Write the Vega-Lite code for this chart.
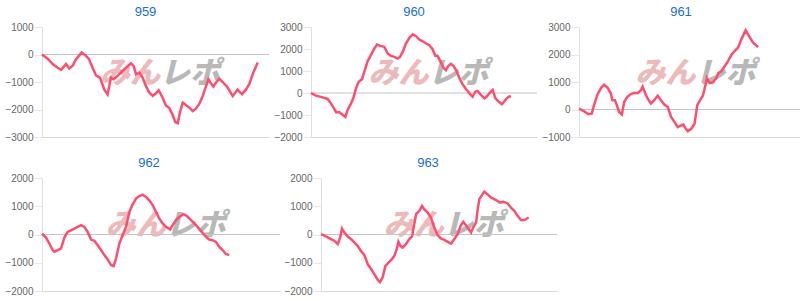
{
  "$schema": "https://vega.github.io/schema/vega-lite/v6.json",
  "autosize": {"type": "pad"},
  "padding": {"left": 4, "top": 6, "right": 0, "bottom": 0},
  "background": "white",
  "config": {
    "view": {"stroke": null},
    "font": "Liberation Sans",
    "title": {"fontSize": 13, "color": "#1a6dd1", "font": "Liberation Sans", "fontWeight": "normal", "anchor": "middle", "offset": 3},
    "axisY": {"labelColor": "#666666", "labelFontSize": 10, "labelFont": "Liberation Sans", "labelOverlap": false, "labelBound": false, "domainColor": "#e0e0e0", "tickColor": "#e6e6e6", "tickSize": 8, "labelPadding": 1, "gridColor": "#e6e6e6", "title": null, "format": "d"},
    "axisX": {"labels": false, "ticks": false, "grid": false, "domainColor": "#d8d8d8", "title": null}
  },
  "datasets": {
    "d": [
      {"g":959,"x":0,"v":0},{"g":959,"x":2.5,"v":-150},{"g":959,"x":4.7,"v":-350},{"g":959,"x":6.9,"v":-480},{"g":959,"x":8.4,"v":-560},{"g":959,"x":10.6,"v":-350},{"g":959,"x":12.0,"v":-510},{"g":959,"x":13.5,"v":-410},{"g":959,"x":15.0,"v":-170},{"g":959,"x":17.5,"v":70},{"g":959,"x":19.4,"v":-50},{"g":959,"x":20.6,"v":-150},{"g":959,"x":22.3,"v":-480},{"g":959,"x":23.8,"v":-760},{"g":959,"x":25.6,"v":-850},{"g":959,"x":27.5,"v":-1290},{"g":959,"x":28.9,"v":-1450},{"g":959,"x":30.4,"v":-840},{"g":959,"x":31.6,"v":-900},{"g":959,"x":33.3,"v":-780},{"g":959,"x":35.5,"v":-600},{"g":959,"x":37.0,"v":-480},{"g":959,"x":39.2,"v":-320},{"g":959,"x":40.4,"v":-420},{"g":959,"x":41.4,"v":-720},{"g":959,"x":42.9,"v":-660},{"g":959,"x":44.3,"v":-840},{"g":959,"x":45.8,"v":-1150},{"g":959,"x":47.3,"v":-1390},{"g":959,"x":48.8,"v":-1500},{"g":959,"x":50.2,"v":-1410},{"g":959,"x":51.4,"v":-1300},{"g":959,"x":53.2,"v":-1580},{"g":959,"x":54.6,"v":-1850},{"g":959,"x":56.1,"v":-1950},{"g":959,"x":57.6,"v":-2200},{"g":959,"x":58.7,"v":-2460},{"g":959,"x":59.8,"v":-2500},{"g":959,"x":60.8,"v":-2100},{"g":959,"x":62.0,"v":-1750},{"g":959,"x":63.4,"v":-1840},{"g":959,"x":64.9,"v":-1930},{"g":959,"x":66.4,"v":-2060},{"g":959,"x":67.8,"v":-1970},{"g":959,"x":69.3,"v":-1800},{"g":959,"x":70.8,"v":-1510},{"g":959,"x":72.2,"v":-1170},{"g":959,"x":73.3,"v":-900},{"g":959,"x":74.4,"v":-1050},{"g":959,"x":75.5,"v":-1170},{"g":959,"x":76.7,"v":-1020},{"g":959,"x":78.1,"v":-880},{"g":959,"x":79.6,"v":-1000},{"g":959,"x":81.8,"v":-1200},{"g":959,"x":84.0,"v":-1510},{"g":959,"x":86.2,"v":-1270},{"g":959,"x":87.2,"v":-1370},{"g":959,"x":88.1,"v":-1440},{"g":959,"x":89.9,"v":-1270},{"g":959,"x":91.3,"v":-1080},{"g":959,"x":92.8,"v":-720},{"g":959,"x":95.0,"v":-290},
      {"g":960,"x":0,"v":0},{"g":960,"x":2.2,"v":-120},{"g":960,"x":5.2,"v":-200},{"g":960,"x":7.4,"v":-270},{"g":960,"x":8.8,"v":-470},{"g":960,"x":10.3,"v":-720},{"g":960,"x":11.1,"v":-870},{"g":960,"x":12.5,"v":-870},{"g":960,"x":13.7,"v":-965},{"g":960,"x":15.2,"v":-1090},{"g":960,"x":16.2,"v":-770},{"g":960,"x":17.7,"v":-470},{"g":960,"x":18.7,"v":-240},{"g":960,"x":19.9,"v":210},{"g":960,"x":21.1,"v":510},{"g":960,"x":22.6,"v":630},{"g":960,"x":23.6,"v":970},{"g":960,"x":25.1,"v":1450},{"g":960,"x":26.5,"v":1720},{"g":960,"x":28.0,"v":2020},{"g":960,"x":29.2,"v":2200},{"g":960,"x":30.7,"v":2140},{"g":960,"x":32.4,"v":2100},{"g":960,"x":33.9,"v":1800},{"g":960,"x":35.4,"v":1690},{"g":960,"x":36.9,"v":1640},{"g":960,"x":38.3,"v":1570},{"g":960,"x":39.4,"v":1640},{"g":960,"x":40.6,"v":1870},{"g":960,"x":42.0,"v":2250},{"g":960,"x":43.5,"v":2500},{"g":960,"x":45.0,"v":2670},{"g":960,"x":46.5,"v":2580},{"g":960,"x":47.9,"v":2430},{"g":960,"x":49.4,"v":2350},{"g":960,"x":50.9,"v":2250},{"g":960,"x":52.4,"v":2170},{"g":960,"x":53.8,"v":1990},{"g":960,"x":55.0,"v":1690},{"g":960,"x":56.0,"v":1690},{"g":960,"x":57.5,"v":1390},{"g":960,"x":58.6,"v":1150},{"g":960,"x":59.7,"v":1040},{"g":960,"x":60.8,"v":1240},{"g":960,"x":61.9,"v":1330},{"g":960,"x":63.0,"v":1240},{"g":960,"x":64.2,"v":1040},{"g":960,"x":65.6,"v":690},{"g":960,"x":67.1,"v":390},{"g":960,"x":68.6,"v":180},{"g":960,"x":70.1,"v":-15},{"g":960,"x":71.5,"v":-170},{"g":960,"x":72.7,"v":60},{"g":960,"x":73.7,"v":90},{"g":960,"x":75.2,"v":-90},{"g":960,"x":76.7,"v":-240},{"g":960,"x":77.7,"v":-170},{"g":960,"x":78.9,"v":-15},{"g":960,"x":80.4,"v":140},{"g":960,"x":81.6,"v":-240},{"g":960,"x":83.0,"v":-390},{"g":960,"x":84.5,"v":-510},{"g":960,"x":85.5,"v":-390},{"g":960,"x":86.6,"v":-240},{"g":960,"x":87.5,"v":-170},{"g":960,"x":88.5,"v":-150},
      {"g":961,"x":0,"v":30},{"g":961,"x":2.2,"v":-60},{"g":961,"x":4.2,"v":-170},{"g":961,"x":5.7,"v":-150},{"g":961,"x":6.7,"v":160},{"g":961,"x":8.2,"v":530},{"g":961,"x":9.7,"v":770},{"g":961,"x":11.2,"v":900},{"g":961,"x":12.7,"v":800},{"g":961,"x":14.2,"v":590},{"g":961,"x":14.9,"v":340},{"g":961,"x":16.0,"v":340},{"g":961,"x":16.9,"v":160},{"g":961,"x":17.9,"v":-90},{"g":961,"x":19.1,"v":-180},{"g":961,"x":20.2,"v":280},{"g":961,"x":21.7,"v":470},{"g":961,"x":23.2,"v":560},{"g":961,"x":24.7,"v":610},{"g":961,"x":26.2,"v":590},{"g":961,"x":27.7,"v":710},{"g":961,"x":28.4,"v":830},{"g":961,"x":29.9,"v":530},{"g":961,"x":30.6,"v":400},{"g":961,"x":32.1,"v":220},{"g":961,"x":33.6,"v":340},{"g":961,"x":35.1,"v":500},{"g":961,"x":36.6,"v":340},{"g":961,"x":38.1,"v":180},{"g":961,"x":39.6,"v":100},{"g":961,"x":41.1,"v":-270},{"g":961,"x":42.6,"v":-450},{"g":961,"x":44.1,"v":-640},{"g":961,"x":45.6,"v":-580},{"g":961,"x":46.6,"v":-550},{"g":961,"x":47.5,"v":-670},{"g":961,"x":48.6,"v":-790},{"g":961,"x":50.1,"v":-700},{"g":961,"x":51.6,"v":-520},{"g":961,"x":52.8,"v":160},{"g":961,"x":54.1,"v":340},{"g":961,"x":55.3,"v":500},{"g":961,"x":56.5,"v":900},{"g":961,"x":57.1,"v":1140},{"g":961,"x":58.3,"v":960},{"g":961,"x":59.8,"v":990},{"g":961,"x":61.3,"v":1140},{"g":961,"x":62.3,"v":1330},{"g":961,"x":63.5,"v":1390},{"g":961,"x":65.0,"v":1570},{"g":961,"x":66.5,"v":1750},{"g":961,"x":68.0,"v":1980},{"g":961,"x":69.5,"v":2120},{"g":961,"x":71.0,"v":2250},{"g":961,"x":72.5,"v":2550},{"g":961,"x":74.4,"v":2880},{"g":961,"x":75.9,"v":2670},{"g":961,"x":77.7,"v":2430},{"g":961,"x":80.0,"v":2270},
      {"g":962,"x":0,"v":35},{"g":962,"x":1.7,"v":-110},{"g":962,"x":3.1,"v":-320},{"g":962,"x":4.5,"v":-550},{"g":962,"x":5.2,"v":-610},{"g":962,"x":6.6,"v":-550},{"g":962,"x":8.0,"v":-490},{"g":962,"x":9.4,"v":-110},{"g":962,"x":10.8,"v":90},{"g":962,"x":12.2,"v":150},{"g":962,"x":13.6,"v":210},{"g":962,"x":15.0,"v":270},{"g":962,"x":16.4,"v":330},{"g":962,"x":17.8,"v":270},{"g":962,"x":19.2,"v":90},{"g":962,"x":20.6,"v":-180},{"g":962,"x":22.0,"v":-220},{"g":962,"x":23.4,"v":-380},{"g":962,"x":24.8,"v":-550},{"g":962,"x":26.2,"v":-730},{"g":962,"x":27.6,"v":-880},{"g":962,"x":29.0,"v":-1080},{"g":962,"x":30.1,"v":-1120},{"g":962,"x":31.1,"v":-850},{"g":962,"x":32.5,"v":-320},{"g":962,"x":33.9,"v":-20},{"g":962,"x":35.3,"v":270},{"g":962,"x":36.7,"v":800},{"g":962,"x":38.1,"v":1070},{"g":962,"x":39.5,"v":1270},{"g":962,"x":40.9,"v":1360},{"g":962,"x":42.3,"v":1410},{"g":962,"x":43.7,"v":1330},{"g":962,"x":45.1,"v":1210},{"g":962,"x":46.5,"v":1040},{"g":962,"x":47.9,"v":800},{"g":962,"x":49.3,"v":560},{"g":962,"x":50.7,"v":390},{"g":962,"x":52.1,"v":270},{"g":962,"x":53.8,"v":180},{"g":962,"x":54.9,"v":330},{"g":962,"x":56.3,"v":510},{"g":962,"x":57.7,"v":620},{"g":962,"x":59.4,"v":720},{"g":962,"x":60.8,"v":660},{"g":962,"x":62.6,"v":510},{"g":962,"x":64.7,"v":330},{"g":962,"x":66.8,"v":130},{"g":962,"x":68.9,"v":-80},{"g":962,"x":70.3,"v":-180},{"g":962,"x":71.7,"v":-200},{"g":962,"x":73.1,"v":-260},{"g":962,"x":74.5,"v":-440},{"g":962,"x":75.9,"v":-550},{"g":962,"x":77.3,"v":-690},{"g":962,"x":78.7,"v":-730},
      {"g":963,"x":0,"v":10},{"g":963,"x":2.1,"v":-70},{"g":963,"x":4.2,"v":-160},{"g":963,"x":5.6,"v":-220},{"g":963,"x":7.1,"v":-340},{"g":963,"x":8.1,"v":-110},{"g":963,"x":8.9,"v":210},{"g":963,"x":9.9,"v":70},{"g":963,"x":11.3,"v":-70},{"g":963,"x":12.7,"v":-160},{"g":963,"x":14.1,"v":-280},{"g":963,"x":15.5,"v":-400},{"g":963,"x":16.9,"v":-580},{"g":963,"x":18.4,"v":-730},{"g":963,"x":19.8,"v":-1050},{"g":963,"x":21.2,"v":-1220},{"g":963,"x":22.6,"v":-1400},{"g":963,"x":24.0,"v":-1600},{"g":963,"x":25.0,"v":-1690},{"g":963,"x":26.1,"v":-1520},{"g":963,"x":27.3,"v":-1110},{"g":963,"x":28.7,"v":-990},{"g":963,"x":30.1,"v":-870},{"g":963,"x":31.1,"v":-750},{"g":963,"x":32.1,"v":-520},{"g":963,"x":32.8,"v":-260},{"g":963,"x":33.6,"v":-400},{"g":963,"x":34.6,"v":-460},{"g":963,"x":36.0,"v":-340},{"g":963,"x":37.4,"v":-160},{"g":963,"x":38.6,"v":-70},{"g":963,"x":39.5,"v":360},{"g":963,"x":40.3,"v":720},{"g":963,"x":41.7,"v":840},{"g":963,"x":42.8,"v":1010},{"g":963,"x":43.8,"v":890},{"g":963,"x":45.2,"v":780},{"g":963,"x":46.6,"v":600},{"g":963,"x":48.0,"v":250},{"g":963,"x":49.4,"v":-20},{"g":963,"x":50.8,"v":-140},{"g":963,"x":52.3,"v":-190},{"g":963,"x":53.7,"v":-260},{"g":963,"x":55.1,"v":-320},{"g":963,"x":56.5,"v":-160},{"g":963,"x":57.9,"v":10},{"g":963,"x":59.3,"v":330},{"g":963,"x":60.3,"v":450},{"g":963,"x":61.4,"v":330},{"g":963,"x":62.9,"v":150},{"g":963,"x":63.6,"v":70},{"g":963,"x":64.5,"v":250},{"g":963,"x":65.7,"v":420},{"g":963,"x":66.4,"v":890},{"g":963,"x":67.1,"v":1250},{"g":963,"x":69.2,"v":1520},{"g":963,"x":70.6,"v":1420},{"g":963,"x":72.0,"v":1310},{"g":963,"x":74.2,"v":1220},{"g":963,"x":75.8,"v":1130},{"g":963,"x":77.3,"v":1160},{"g":963,"x":79.1,"v":1100},{"g":963,"x":80.5,"v":950},{"g":963,"x":81.9,"v":840},{"g":963,"x":83.3,"v":660},{"g":963,"x":84.7,"v":510},{"g":963,"x":86.2,"v":510},{"g":963,"x":88.0,"v":600}
    ]
  },
  "spacing": 15,
  "vconcat": [
    {
      "bounds": "flush",
      "spacing": 42,
      "hconcat": [
        {
          "width": 227, "height": 110,
          "title": {"text": "959", "dx": -10},
          "layer": [
            {"data": {"values": [{"t": "みん"}]}, "mark": {"type": "text", "font": "Noto Sans CJK JP", "fontSize": 30, "fontStyle": "italic", "fontWeight": 900, "color": "#ecbaba", "align": "right", "baseline": "middle"}, "encoding": {"x": {"datum": 52}, "y": {"datum": -720, "axis": {"values": [-3000, -2000, -1000, 0, 1000]}}, "text": {"field": "t"}}},
            {"data": {"values": [{"t": "レポ"}]}, "mark": {"type": "text", "font": "Noto Sans CJK JP", "fontSize": 30, "fontStyle": "italic", "fontWeight": 900, "color": "#b8b8b8", "align": "left", "baseline": "middle"}, "encoding": {"x": {"datum": 52}, "y": {"datum": -720, "axis": {"values": [-3000, -2000, -1000, 0, 1000]}}, "text": {"field": "t"}}},
            {"data": {"values": [{"z": 0}]}, "mark": {"type": "rule", "color": "#c4c4c4", "strokeWidth": 1}, "encoding": {"y": {"field": "z", "type": "quantitative", "axis": {"values": [-3000, -2000, -1000, 0, 1000]}}}},
            {"data": {"name": "d"}, "transform": [{"filter": "datum.g == 959"}], "mark": {"type": "line", "color": "#ff4d6f", "strokeWidth": 2.5},
             "encoding": {"x": {"field": "x", "type": "quantitative", "scale": {"domain": [0, 100]}}, "y": {"field": "v", "type": "quantitative", "scale": {"domain": [-3000, 1000]}, "axis": {"values": [-3000, -2000, -1000, 0, 1000]}}}}
          ]
        },
        {
          "width": 226, "height": 110,
          "title": {"text": "960", "dx": -10},
          "layer": [
            {"data": {"values": [{"t": "みん"}]}, "mark": {"type": "text", "font": "Noto Sans CJK JP", "fontSize": 30, "fontStyle": "italic", "fontWeight": 900, "color": "#ecbaba", "align": "right", "baseline": "middle"}, "encoding": {"x": {"datum": 52}, "y": {"datum": 850, "axis": {"values": [-2000, -1000, 0, 1000, 2000, 3000]}}, "text": {"field": "t"}}},
            {"data": {"values": [{"t": "レポ"}]}, "mark": {"type": "text", "font": "Noto Sans CJK JP", "fontSize": 30, "fontStyle": "italic", "fontWeight": 900, "color": "#b8b8b8", "align": "left", "baseline": "middle"}, "encoding": {"x": {"datum": 52}, "y": {"datum": 850, "axis": {"values": [-2000, -1000, 0, 1000, 2000, 3000]}}, "text": {"field": "t"}}},
            {"data": {"values": [{"z": 0}]}, "mark": {"type": "rule", "color": "#c4c4c4", "strokeWidth": 1}, "encoding": {"y": {"field": "z", "type": "quantitative", "axis": {"values": [-2000, -1000, 0, 1000, 2000, 3000]}}}},
            {"data": {"name": "d"}, "transform": [{"filter": "datum.g == 960"}], "mark": {"type": "line", "color": "#ff4d6f", "strokeWidth": 2.5},
             "encoding": {"x": {"field": "x", "type": "quantitative", "scale": {"domain": [0, 100]}}, "y": {"field": "v", "type": "quantitative", "scale": {"domain": [-2000, 3000]}, "axis": {"values": [-2000, -1000, 0, 1000, 2000, 3000]}}}}
          ]
        },
        {
          "width": 224, "height": 110,
          "title": {"text": "961", "dx": -10},
          "layer": [
            {"data": {"values": [{"t": "みん"}]}, "mark": {"type": "text", "font": "Noto Sans CJK JP", "fontSize": 30, "fontStyle": "italic", "fontWeight": 900, "color": "#ecbaba", "align": "right", "baseline": "middle"}, "encoding": {"x": {"datum": 52}, "y": {"datum": 1280, "axis": {"values": [-1000, 0, 1000, 2000, 3000]}}, "text": {"field": "t"}}},
            {"data": {"values": [{"t": "レポ"}]}, "mark": {"type": "text", "font": "Noto Sans CJK JP", "fontSize": 30, "fontStyle": "italic", "fontWeight": 900, "color": "#b8b8b8", "align": "left", "baseline": "middle"}, "encoding": {"x": {"datum": 52}, "y": {"datum": 1280, "axis": {"values": [-1000, 0, 1000, 2000, 3000]}}, "text": {"field": "t"}}},
            {"data": {"values": [{"z": 0}]}, "mark": {"type": "rule", "color": "#c4c4c4", "strokeWidth": 1}, "encoding": {"y": {"field": "z", "type": "quantitative", "axis": {"values": [-1000, 0, 1000, 2000, 3000]}}}},
            {"data": {"name": "d"}, "transform": [{"filter": "datum.g == 961"}], "mark": {"type": "line", "color": "#ff4d6f", "strokeWidth": 2.5},
             "encoding": {"x": {"field": "x", "type": "quantitative", "scale": {"domain": [0, 100]}}, "y": {"field": "v", "type": "quantitative", "scale": {"domain": [-1000, 3000]}, "axis": {"values": [-1000, 0, 1000, 2000, 3000]}}}}
          ]
        }
      ]
    },
    {
      "bounds": "flush",
      "spacing": 41,
      "hconcat": [
        {
          "width": 238, "height": 113,
          "title": {"text": "962", "dx": -12},
          "layer": [
            {"data": {"values": [{"t": "みん"}]}, "mark": {"type": "text", "font": "Noto Sans CJK JP", "fontSize": 30, "fontStyle": "italic", "fontWeight": 900, "color": "#ecbaba", "align": "right", "baseline": "middle"}, "encoding": {"x": {"datum": 52}, "y": {"datum": 300, "axis": {"values": [-2000, -1000, 0, 1000, 2000]}}, "text": {"field": "t"}}},
            {"data": {"values": [{"t": "レポ"}]}, "mark": {"type": "text", "font": "Noto Sans CJK JP", "fontSize": 30, "fontStyle": "italic", "fontWeight": 900, "color": "#b8b8b8", "align": "left", "baseline": "middle"}, "encoding": {"x": {"datum": 52}, "y": {"datum": 300, "axis": {"values": [-2000, -1000, 0, 1000, 2000]}}, "text": {"field": "t"}}},
            {"data": {"values": [{"z": 0}]}, "mark": {"type": "rule", "color": "#c4c4c4", "strokeWidth": 1}, "encoding": {"y": {"field": "z", "type": "quantitative", "axis": {"values": [-2000, -1000, 0, 1000, 2000]}}}},
            {"data": {"name": "d"}, "transform": [{"filter": "datum.g == 962"}], "mark": {"type": "line", "color": "#ff4d6f", "strokeWidth": 2.5},
             "encoding": {"x": {"field": "x", "type": "quantitative", "scale": {"domain": [0, 100]}}, "y": {"field": "v", "type": "quantitative", "scale": {"domain": [-2000, 2000]}, "axis": {"values": [-2000, -1000, 0, 1000, 2000]}}}}
          ]
        },
        {
          "width": 236, "height": 113,
          "title": {"text": "963", "dx": -11},
          "layer": [
            {"data": {"values": [{"t": "みん"}]}, "mark": {"type": "text", "font": "Noto Sans CJK JP", "fontSize": 30, "fontStyle": "italic", "fontWeight": 900, "color": "#ecbaba", "align": "right", "baseline": "middle"}, "encoding": {"x": {"datum": 52}, "y": {"datum": 300, "axis": {"values": [-2000, -1000, 0, 1000, 2000]}}, "text": {"field": "t"}}},
            {"data": {"values": [{"t": "レポ"}]}, "mark": {"type": "text", "font": "Noto Sans CJK JP", "fontSize": 30, "fontStyle": "italic", "fontWeight": 900, "color": "#b8b8b8", "align": "left", "baseline": "middle"}, "encoding": {"x": {"datum": 52}, "y": {"datum": 300, "axis": {"values": [-2000, -1000, 0, 1000, 2000]}}, "text": {"field": "t"}}},
            {"data": {"values": [{"z": 0}]}, "mark": {"type": "rule", "color": "#c4c4c4", "strokeWidth": 1}, "encoding": {"y": {"field": "z", "type": "quantitative", "axis": {"values": [-2000, -1000, 0, 1000, 2000]}}}},
            {"data": {"name": "d"}, "transform": [{"filter": "datum.g == 963"}], "mark": {"type": "line", "color": "#ff4d6f", "strokeWidth": 2.5},
             "encoding": {"x": {"field": "x", "type": "quantitative", "scale": {"domain": [0, 100]}}, "y": {"field": "v", "type": "quantitative", "scale": {"domain": [-2000, 2000]}, "axis": {"values": [-2000, -1000, 0, 1000, 2000]}}}}
          ]
        }
      ]
    }
  ]
}
